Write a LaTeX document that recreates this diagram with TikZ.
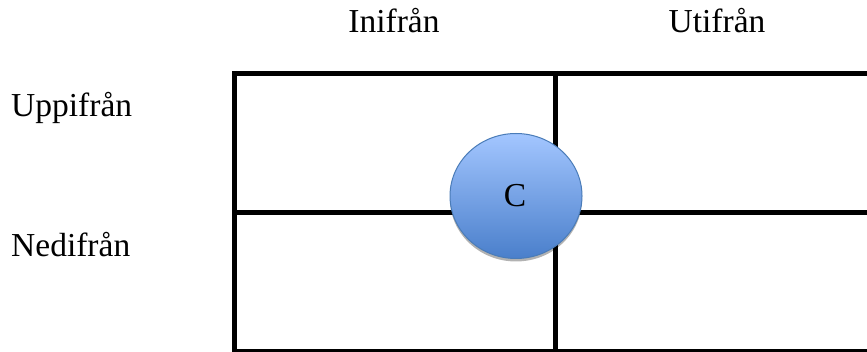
\documentclass[tikz,border=0pt]{standalone}
\usepackage{fontspec}
\setmainfont{Liberation Serif}
\usetikzlibrary{shadows,shapes.geometric}
\definecolor{ctop}{HTML}{A3C6FF}
\definecolor{cbot}{HTML}{4A7FCB}
\definecolor{cedge}{HTML}{4A7CB8}
\begin{document}
\begin{tikzpicture}[x=1pt,y=-1pt,
  gridline/.style={line width=5pt,black},
  lbl/.style={font=\fontsize{33.5}{38}\selectfont,inner sep=0pt},
  bubble/.style={ellipse,minimum width=132pt,minimum height=125pt,draw=cedge,line width=1pt,
    top color=ctop,bottom color=cbot,
    drop shadow={shadow xshift=0pt,shadow yshift=-3pt,opacity=0.3,fill=black}}]
\useasboundingbox (0,0) rectangle (867,352);
\clip (0,0) rectangle (867,352);
\fill[white] (0,0) rectangle (867,352);
\coordinate (tl) at (234,71);
\coordinate (tr) at (872,73.5);
\coordinate (bl) at (234,352);
\coordinate (br) at (872,352);
\coordinate (mt) at (555,71);
\coordinate (mb) at (555,352);
\coordinate (ml) at (234,212.5);
\coordinate (mr) at (872,212.5);
\draw[gridline] (234,73.5) -- (tr);
\draw[gridline] (tl) -- (bl);
\draw[gridline] (234,352) -- (br);
\draw[gridline] (mt) -- (mb);
\draw[gridline] (ml) -- (mr);
\draw[gridline] (869.5,71) -- (869.5,352);
\node[lbl,anchor=base] (ini) at (394,33) {Inifrån};
\node[lbl,anchor=base] (uti) at (717,33) {Utifrån};
\node[lbl,anchor=base west] (upp) at (11,117) {Uppifrån};
\node[lbl,anchor=base west] (ned) at (11,257) {Nedifrån};
\node[bubble] (c) at (516,196) {};
\node[lbl,anchor=base] (ct) at (515,207) {C};
\end{tikzpicture}
\end{document}
